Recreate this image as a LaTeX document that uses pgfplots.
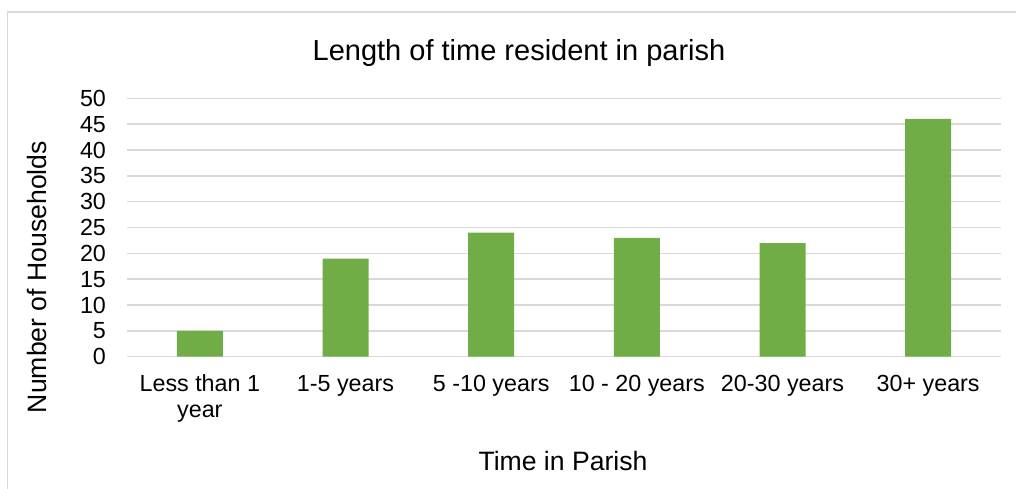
\documentclass[border=0pt]{standalone}
\usepackage{fontspec}
\setmainfont{Liberation Sans}
\usepackage{pgfplots}
\pgfplotsset{compat=1.18}
\definecolor{barg}{HTML}{70AD47}
\definecolor{gridc}{HTML}{D9D9D9}
\begin{document}
\begin{tikzpicture}
\useasboundingbox (0pt,0pt) rectangle (508pt,244pt);
\draw[gridc, line width=0.8pt] (3.75pt,-20pt) -- (3.75pt,238pt) -- (530pt,238pt);
\begin{axis}[
  at={(63.5pt,65.65pt)}, anchor=south west,
  scale only axis, width=437pt, height=129.2pt,
  xmin=-0.5, xmax=5.5, ymin=0, ymax=50,
  ytick={0,5,...,50},
  xtick={0,1,2,3,4,5},
  xticklabels={{Less than 1\\year},{1-5 years},{5 -10 years},{10 - 20 years},{20-30 years},{30+ years}},
  axis line style={draw=none},
  major tick length=0pt,
  ymajorgrids, xmajorgrids=false,
  grid style={gridc, line width=0.7pt},
  /pgf/number format/assume math mode=true,
  yticklabel style={font=\fontsize{11.65}{13}\selectfont, anchor=east, xshift=-7pt},
  xticklabel style={font=\fontsize{11.65}{13}\selectfont, align=center, anchor=north, yshift=-5.6pt},
  ybar, bar width=23pt,
]
\addplot[fill=barg, draw=none] coordinates {(0,5) (1,19) (2,24) (3,23) (4,22) (5,46)};
\end{axis}
\node[anchor=base, font=\fontsize{14.5}{17}\selectfont] at (259.5pt,213.65pt) {Length of time resident in parish};
\node[anchor=base, font=\fontsize{13.3}{16}\selectfont] at (281.5pt,9pt) {Time in Parish};
\node[anchor=base, rotate=90, font=\fontsize{13.3}{16}\selectfont] at (23.35pt,105.5pt) {Number of Households};
\end{tikzpicture}
\end{document}
